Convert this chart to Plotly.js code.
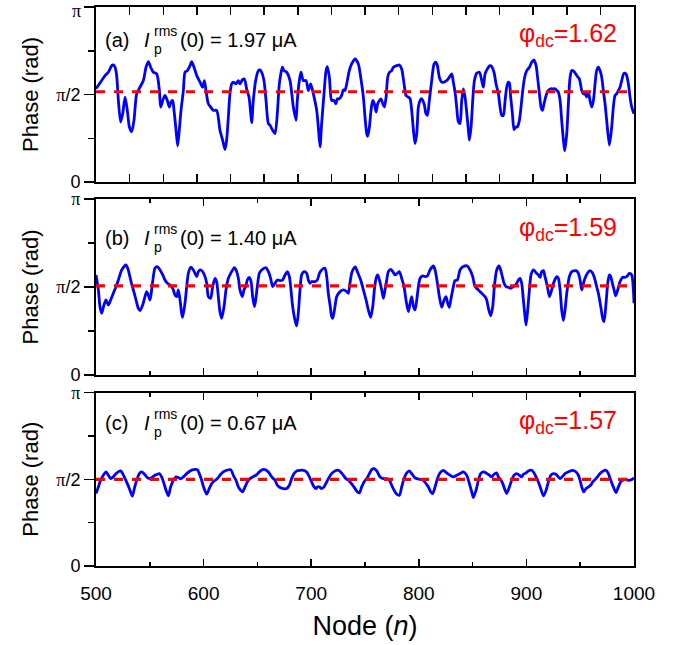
<!DOCTYPE html>
<html><head><meta charset="utf-8">
<script src="https://cdn.plot.ly/plotly-3.0.1.min.js"></script>
<style>body{margin:0;background:#fff}#chart{width:691px;height:645px}</style>
</head><body><div id="chart"></div>
<script>
// ---------- data ----------
const nodeA = [500,505.3,508.4,511.5,514.6,516.1,517.7,519.2,520.8,522.9,524.8,527.0,529.1,531.0,533.1,535.3,537.8,540.9,544.0,546.5,548.6,550.8,553.3,556.4,558.9,560.1,562.0,564.1,566.3,568.2,569.7,571.3,572.5,574.4,575.9,577.4,579.0,581.2,582.7,584.9,587.4,588.9,591.1,593.6,596.7,599.1,600.7,602.2,604.4,606.6,609.0,612.1,615.2,617.7,619.9,621.4,623.0,624.5,626.1,627.6,630.1,632.3,633.8,636.0,637.9,640.0,642.2,643.8,644.7,646.2,648.4,650.9,652.4,654.0,656.1,658.0,660.2,661.7,664.2,666.4,668.5,670.4,673.2,674.7,677.2,680.3,683.4,685.9,687.1,689.0,690.5,692.7,695.2,697.3,699.5,702.0,705.1,706.6,708.2,709.7,711.9,713.8,715.0,716.9,719.0,721.2,723.0,724.3,726.1,728.3,729.9,731.4,733.0,735.4,737.6,740.7,743.8,746.0,748.5,750.0,751.6,752.5,754.1,755.6,757.2,758.7,760.3,761.8,763.4,764.9,766.5,768.0,769.6,771.1,772.7,774.8,776.4,779.5,782.0,784.1,786.3,788.1,790.3,791.9,793.4,795.0,796.5,798.1,799.6,801.2,802.7,804.9,806.7,808.0,809.8,812.0,814.2,816.0,817.3,819.1,821.3,823.5,825.9,828.4,830.6,832.1,833.7,835.2,836.8,838.3,839.9,841.4,843.0,844.5,846.1,847.0,848.6,850.1,851.7,853.8,856.3,858.5,860.0,861.6,863.7,866.2,867.8,869.9,871.8,874.0,875.5,877.1,878.6,880.2,881.7,883.2,884.2,885.4,887.0,888.5,890.1,891.6,893.5,895.0,896.6,898.4,900.3,902.8,904.9,907.1,909.0,910.2,912.1,913.6,914.9,916.4,918.3,920.4,922.6,924.5,926.6,928.2,929.7,931.3,932.8,934.4,935.6,937.5,939.0,940.6,942.1,944.3,946.8,949.2,951.4,953.0,954.5,956.0,957.6,959.1,960.7,962.3,963.8,965.3,966.9,968.4,970.0,971.5,973.1,974.6,977.1,979.3,980.8,982.4,983.9,985.5,987.0,988.6,990.7,992.6,994.8,996.3,997.9,1000];
const phaseA = [1.673,1.821,1.911,1.970,2.089,2.101,2.060,1.911,1.464,1.077,1.226,1.524,1.286,0.988,0.899,1.107,1.583,1.702,1.821,2.060,2.161,2.060,1.970,1.940,1.643,1.345,1.464,1.554,1.464,1.345,1.435,1.464,1.286,0.929,0.649,0.929,1.286,1.643,1.970,2.000,2.089,2.161,2.060,1.911,1.792,1.702,1.821,1.643,1.405,1.345,1.286,1.286,0.929,0.750,0.583,0.750,1.167,1.583,1.762,1.792,1.762,1.821,1.762,1.833,1.851,1.673,1.524,1.226,1.065,1.464,1.821,2.000,2.012,1.970,1.821,1.464,1.048,1.018,0.929,0.869,1.226,1.762,2.060,2.000,1.970,1.821,1.345,1.107,1.464,1.821,1.970,1.821,1.821,1.643,1.762,1.583,1.286,0.988,0.631,1.048,1.583,2.000,2.071,1.881,1.464,1.464,1.405,1.494,1.494,1.554,1.655,1.643,1.762,2.000,2.119,2.208,2.119,1.881,1.524,1.167,0.869,0.821,0.988,1.286,1.464,1.405,1.256,1.405,1.464,1.494,1.405,1.345,1.524,1.881,1.970,2.000,2.060,2.089,2.101,2.030,1.762,1.554,1.524,1.494,1.286,0.929,0.690,0.869,1.345,1.464,1.494,1.405,1.226,1.196,1.464,1.821,2.119,2.149,2.089,1.881,1.792,1.792,1.821,1.881,1.940,1.792,1.613,1.345,1.077,1.048,1.464,1.673,1.524,1.256,0.929,0.750,0.988,1.464,1.821,1.952,1.970,1.821,1.702,1.940,2.030,2.089,2.071,1.970,1.762,1.583,1.345,1.196,1.196,1.464,1.702,1.792,1.774,1.524,1.226,0.940,0.988,0.988,1.107,1.345,1.643,1.881,2.000,2.060,2.149,2.190,2.089,1.911,1.583,1.345,1.286,1.405,1.554,1.643,1.673,1.673,1.673,1.643,1.613,1.464,1.107,0.750,0.560,0.869,1.405,1.881,2.000,1.982,1.911,1.851,1.643,1.583,1.583,1.524,1.613,1.464,1.345,1.464,1.762,2.000,2.060,2.000,1.881,1.643,1.405,1.107,0.661,0.988,1.345,1.554,1.583,1.643,1.702,1.821,1.952,1.940,1.762,1.524,1.345,1.226];

const nodeB = [500,502.2,503.7,505.3,507.4,509.3,511.5,513.6,516.1,518.6,520.8,523.9,527.9,530.0,532.2,534.7,537.2,539.3,540.9,543.4,545.5,547.1,548.6,550.2,551.7,553.3,554.8,557.0,559.5,562.0,564.1,566.3,568.8,571.3,573.4,575.0,576.5,578.1,579.6,580.5,582.7,584.3,585.8,588.0,590.5,592.0,593.6,595.1,596.7,599.1,601.3,602.9,604.4,606.6,608.4,610.6,612.1,613.7,615.2,616.8,619.0,620.8,623.0,625.2,628.6,630.1,632.3,633.8,636.0,637.5,639.1,640.6,642.5,644.1,645.6,647.2,648.4,649.9,651.8,654.0,657.7,660.2,662.3,664.2,666.4,668.5,671.0,673.5,675.7,677.8,679.7,681.2,682.8,684.9,686.5,688.0,689.6,691.1,693.3,695.8,697.3,698.9,700.4,703.5,705.7,707.6,709.7,712.8,714.4,715.9,717.5,719.0,720.0,722.1,723.7,726.8,729.9,733.0,734.5,736.1,737.6,739.5,741.0,742.9,746.0,748.5,751.0,753.1,755.3,757.2,758.7,760.3,761.8,763.4,765.5,767.1,768.6,770.2,771.7,773.9,775.8,777.9,780.1,781.9,784.1,786.3,788.1,790.3,791.9,793.4,795.0,796.5,798.1,799.6,801.2,803.6,805.8,808.0,810.4,813.5,815.1,817.3,819.1,821.3,823.5,825.3,826.9,828.4,829.7,831.5,833.7,835.9,838.3,841.4,845.1,847.6,850.1,852.3,855.4,858.5,861.6,863.1,864.7,866.8,868.7,870.2,872.4,874.6,876.1,878.0,879.2,881.1,883.2,884.8,887.9,891.0,892.5,894.1,895.6,897.2,898.7,899.7,901.2,902.8,904.3,906.5,909.0,911.1,912.7,914.2,915.8,917.3,919.5,921.4,923.5,925.7,928.2,929.7,931.3,932.8,934.4,935.9,937.5,939.9,942.1,946.1,948.3,949.9,951.4,953.0,954.5,956.7,959.1,961.6,963.8,965.3,966.9,969.1,970.9,972.2,974.0,975.6,977.1,978.4,979.9,981.5,983.0,984.9,987.0,989.5,991.7,993.8,995.7,997.9,999.4,1000];
const phaseB = [1.786,1.518,1.220,1.101,1.250,1.339,1.250,1.339,1.458,1.577,1.696,1.875,1.964,1.875,1.696,1.518,1.339,1.190,1.149,1.250,1.399,1.488,1.429,1.339,1.518,1.756,1.905,1.935,1.875,1.786,1.696,1.637,1.607,1.548,1.429,1.399,1.518,1.339,1.101,1.030,1.280,1.577,1.815,1.923,1.875,1.815,1.756,1.845,1.875,1.845,1.756,1.637,1.399,1.369,1.577,1.726,1.667,1.399,1.131,1.012,1.220,1.518,1.726,1.815,1.917,1.875,1.726,1.518,1.399,1.518,1.577,1.696,1.744,1.667,1.399,1.220,1.339,1.577,1.815,1.875,1.917,1.845,1.726,1.577,1.637,1.696,1.685,1.696,1.786,1.845,1.756,1.518,1.220,0.982,0.875,1.101,1.518,1.786,1.845,1.815,1.696,1.637,1.667,1.667,1.696,1.815,1.875,1.905,1.756,1.458,1.250,1.042,1.012,1.220,1.399,1.488,1.518,1.488,1.458,1.65,1.82,1.90,1.93,1.845,1.696,1.518,1.339,1.161,1.030,1.220,1.518,1.726,1.786,1.696,1.518,1.369,1.518,1.696,1.845,1.887,1.845,1.786,1.815,1.845,1.726,1.577,1.339,1.131,1.280,1.399,1.220,1.161,1.339,1.577,1.726,1.768,1.756,1.768,1.875,1.946,1.875,1.637,1.399,1.208,1.339,1.399,1.280,1.208,1.339,1.518,1.685,1.696,1.875,1.935,1.946,1.875,1.756,1.577,1.518,1.458,1.399,1.339,1.190,1.054,1.220,1.577,1.875,1.946,1.875,1.726,1.637,1.577,1.565,1.548,1.577,1.637,1.696,1.726,1.637,1.339,1.042,0.893,1.161,1.518,1.786,1.875,1.827,1.786,1.744,1.845,1.863,1.756,1.577,1.399,1.518,1.667,1.756,1.726,1.518,1.161,0.970,1.161,1.458,1.756,1.845,1.863,1.815,1.696,1.518,1.637,1.726,1.815,1.863,1.815,1.696,1.577,1.458,1.220,1.012,0.952,1.280,1.637,1.786,1.756,1.637,1.518,1.411,1.518,1.667,1.744,1.744,1.768,1.815,1.786,1.518,1.280];

const nodeC = [500,502.2,504.3,506.8,509.3,511.5,513.6,516.1,518.6,522.9,524.8,527.0,529.1,531.6,533.8,535.6,537.8,540.3,542.4,544.6,547.1,549.6,551.7,554.8,558.9,561.0,563.2,565.1,567.2,569.4,571.9,574.4,576.5,578.7,581.2,584.3,587.4,590.5,594.2,596.0,598.2,600.4,602.9,605.3,607.5,610.6,612.8,615.2,618.3,621.4,625.2,627.6,630.1,632.3,634.4,636.3,638.5,640.6,643.1,645.6,648.7,651.8,654.9,657.1,660.2,663.3,666.4,668.5,671.0,674.1,677.2,679.7,681.8,684.0,686.5,689.6,692.7,695.8,698.3,700.4,702.6,704.5,705.7,707.6,709.7,711.9,714.4,716.9,719.0,722.1,725.2,727.4,729.9,732.3,734.5,736.1,738.6,740.7,742.9,744.8,746.9,749.1,751.6,754.1,756.2,758.4,760.9,764.0,767.1,770.2,772.7,774.8,777.0,779.5,782.0,784.1,786.3,788.8,791.2,793.4,795.6,798.1,801.2,804.3,806.7,808.9,811.1,812.9,815.1,817.3,819.7,822.8,825.9,829.0,832.1,835.2,838.3,841.4,844.5,847.0,849.2,850.7,853.2,855.4,857.5,860.0,862.5,865.6,867.8,869.9,872.4,874.0,876.1,878.0,880.2,881.7,884.2,886.3,888.5,891.0,893.5,895.6,897.2,899.7,901.8,904.9,907.1,909.0,911.1,913.3,915.8,918.3,920.4,922.6,925.1,927.5,929.7,931.3,933.7,935.9,939.0,943.0,946.1,948.3,949.9,951.4,953.3,955.4,957.6,959.8,961.6,963.8,966.0,968.4,971.5,974.0,976.2,978.4,980.8,983.3,985.5,987.6,989.5,991.7,994.8,997.9,1000];
const phaseC = [1.312,1.432,1.552,1.643,1.703,1.643,1.582,1.613,1.673,1.721,1.673,1.582,1.492,1.372,1.264,1.402,1.552,1.673,1.703,1.673,1.613,1.582,1.600,1.643,1.673,1.613,1.492,1.372,1.270,1.432,1.552,1.613,1.600,1.576,1.613,1.673,1.721,1.745,1.745,1.673,1.552,1.402,1.300,1.402,1.492,1.552,1.582,1.643,1.703,1.733,1.745,1.643,1.552,1.432,1.372,1.342,1.432,1.522,1.582,1.613,1.643,1.703,1.745,1.745,1.703,1.613,1.552,1.462,1.420,1.402,1.402,1.462,1.582,1.673,1.721,1.733,1.733,1.703,1.613,1.522,1.432,1.402,1.432,1.432,1.402,1.432,1.522,1.613,1.673,1.721,1.733,1.703,1.643,1.582,1.552,1.52,1.462,1.402,1.342,1.324,1.432,1.522,1.582,1.673,1.745,1.763,1.721,1.613,1.582,1.582,1.552,1.462,1.372,1.300,1.282,1.432,1.582,1.685,1.721,1.673,1.613,1.582,1.570,1.552,1.492,1.432,1.342,1.312,1.432,1.582,1.685,1.733,1.685,1.643,1.613,1.643,1.673,1.703,1.643,1.492,1.342,1.239,1.372,1.552,1.673,1.703,1.685,1.643,1.613,1.661,1.685,1.613,1.564,1.492,1.372,1.312,1.432,1.552,1.643,1.673,1.643,1.613,1.661,1.685,1.721,1.733,1.685,1.613,1.522,1.402,1.270,1.372,1.522,1.643,1.673,1.661,1.613,1.582,1.625,1.673,1.703,1.733,1.703,1.643,1.552,1.432,1.342,1.402,1.432,1.462,1.522,1.564,1.613,1.673,1.721,1.733,1.673,1.552,1.432,1.330,1.432,1.522,1.552,1.564,1.552,1.564,1.600];

const phiDC = [1.62, 1.59, 1.57];
const panelTags = ['(a)', '(b)', '(c)'];
const currents = ['1.97', '1.40', '0.67'];
const nodeRange = [500, 1000];
const xTickVals = [500, 600, 700, 800, 900, 1000];
const xTickLabels = ['500', '600', '700', '800', '900', '1000'];
const yTickVals = [0, Math.PI / 2, Math.PI];
const PI_TXT = '<span style="font-family:\'Liberation Serif\'">π</span>';
const yTickLabels = ['0', PI_TXT + '/2', PI_TXT];

// ---------- layout helpers ----------
const W = 691, H = 645, L = 96, R = 634, T = 7, B = 566;
const px = v => (v - L) / (R - L);
const py = v => (B - v) / (B - T);
const FONT = 'Liberation Sans, Arial, sans-serif';

const nodes = [nodeA, nodeB, nodeC];
const phases = [phaseA, phaseB, phaseC];
const domains = [[py(182), 1], [py(375), py(199)], [0, py(392.5)]];
const labelY = [40, 237.5, 423];
const dcY = [35, 229, 422];

const traces = [];
const layout = {
  width: W, height: H,
  margin: {l: L, r: W - R, t: T, b: H - B},
  paper_bgcolor: '#fff', plot_bgcolor: '#fff',
  showlegend: false,
  font: {family: FONT, color: '#000'},
  annotations: []
};

for (let i = 0; i < 3; i++) {
  const s = i === 0 ? '' : String(i + 1);
  const xa = 'x' + s, ya = 'y' + s;
  traces.push({x: nodes[i], y: phases[i], xaxis: xa, yaxis: ya, mode: 'lines',
    line: {color: '#0000FF', width: 2.8, shape: 'spline', smoothing: 0.7}, hoverinfo: 'skip'});
  traces.push({x: nodeRange, y: [phiDC[i], phiDC[i]], xaxis: xa, yaxis: ya, mode: 'lines',
    line: {color: '#FF0000', width: 3.2, dash: '9px,9px'}, hoverinfo: 'skip'});

  const xcfg = {
    domain: [0, 1], range: nodeRange, anchor: ya,
    showline: true, linecolor: '#000', linewidth: 2, mirror: 'ticks',
    showgrid: false, zeroline: false,
    ticks: 'inside', tickwidth: 1.5, tickcolor: '#000',
    showticklabels: i === 2,
    tickfont: {size: 19, family: FONT}
  };
  if (i === 0) {
    Object.assign(xcfg, {tickmode: 'linear', tick0: 500, dtick: 31.25, ticklen: 8});
  } else {
    Object.assign(xcfg, {tickmode: 'array', tickvals: xTickVals, ticktext: xTickLabels, ticklen: 7,
      minor: {dtick: 50, tick0: 500, ticks: 'inside', ticklen: 4, tickwidth: 1.5, tickcolor: '#000'}});
  }
  if (i === 2) {
    xcfg.title = {text: 'Node (<i>n</i>)', font: {size: 27, family: FONT}, standoff: 13};
    xcfg.ticklabelstandoff = 9;
  }
  if (i > 0) xcfg.matches = 'x';
  layout['xaxis' + s] = xcfg;

  // top panel: its π label sits at the figure edge, so it is drawn as an annotation below
  const tt = i === 0 ? [yTickLabels[0], yTickLabels[1], ''] : yTickLabels;
  layout['yaxis' + s] = {
    domain: domains[i], range: [0, Math.PI], anchor: xa,
    showline: true, linecolor: '#000', linewidth: 2, mirror: true,
    showgrid: false, zeroline: false,
    ticks: 'outside', ticklen: 10, tickwidth: 1.5, tickcolor: '#000',
    tickmode: 'array', tickvals: yTickVals, ticktext: tt,
    tickfont: {size: 18, family: FONT},
    minor: {tickmode: 'array', tickvals: [Math.PI / 4, 3 * Math.PI / 4], ticks: 'outside', ticklen: 6, tickwidth: 1.5, tickcolor: '#000'},
    title: {text: 'Phase (rad)', font: {size: 22, family: FONT}, standoff: 12}
  };
  // inward ticks on the right side
  layout['yaxis' + (i + 4)] = {
    overlaying: ya, side: 'right', anchor: xa, range: [0, Math.PI],
    showline: false, showgrid: false, zeroline: false, showticklabels: false,
    ticks: 'inside', ticklen: 4, tickwidth: 1.5, tickcolor: '#000',
    tickmode: 'array', tickvals: [Math.PI / 4, Math.PI / 2, 3 * Math.PI / 4]
  };

  // panel label pieces
  const yl = labelY[i];
  const add = (text, x, y, size, extra) => layout.annotations.push(Object.assign({
    text: text, xref: 'paper', yref: 'paper', x: px(x), y: py(y), xanchor: 'left', yanchor: 'middle',
    showarrow: false, font: {size: size, family: FONT, color: '#000'}, borderpad: 0}, extra || {}));
  add(panelTags[i], 104, yl, 20);
  add('<i>I</i>', 143, yl, 20);
  add('rms', 153, yl - 9, 14);
  add('p', 153, yl + 9, 14);
  add('(0) = ' + currents[i] + ' μA', 179, yl, 20);
  layout.annotations.push({
    text: 'φ<sub>dc</sub>=' + phiDC[i].toFixed(2), xref: 'paper', yref: 'paper',
    x: px(618), y: py(dcY[i]), xanchor: 'right', yanchor: 'middle', showarrow: false,
    font: {size: 25, family: FONT, color: '#FF0000'}, borderpad: 0
  });
}
// π label of the top panel, kept inside the figure
layout.annotations.push({
  text: yTickLabels[2], xref: 'paper', yref: 'paper', x: px(82), y: py(0), xanchor: 'right', yanchor: 'top',
  showarrow: false, font: {size: 18, family: FONT, color: '#000'}, borderpad: 0
});

Plotly.newPlot('chart', traces, layout, {staticPlot: true, displayModeBar: false});
</script>
</body></html>
